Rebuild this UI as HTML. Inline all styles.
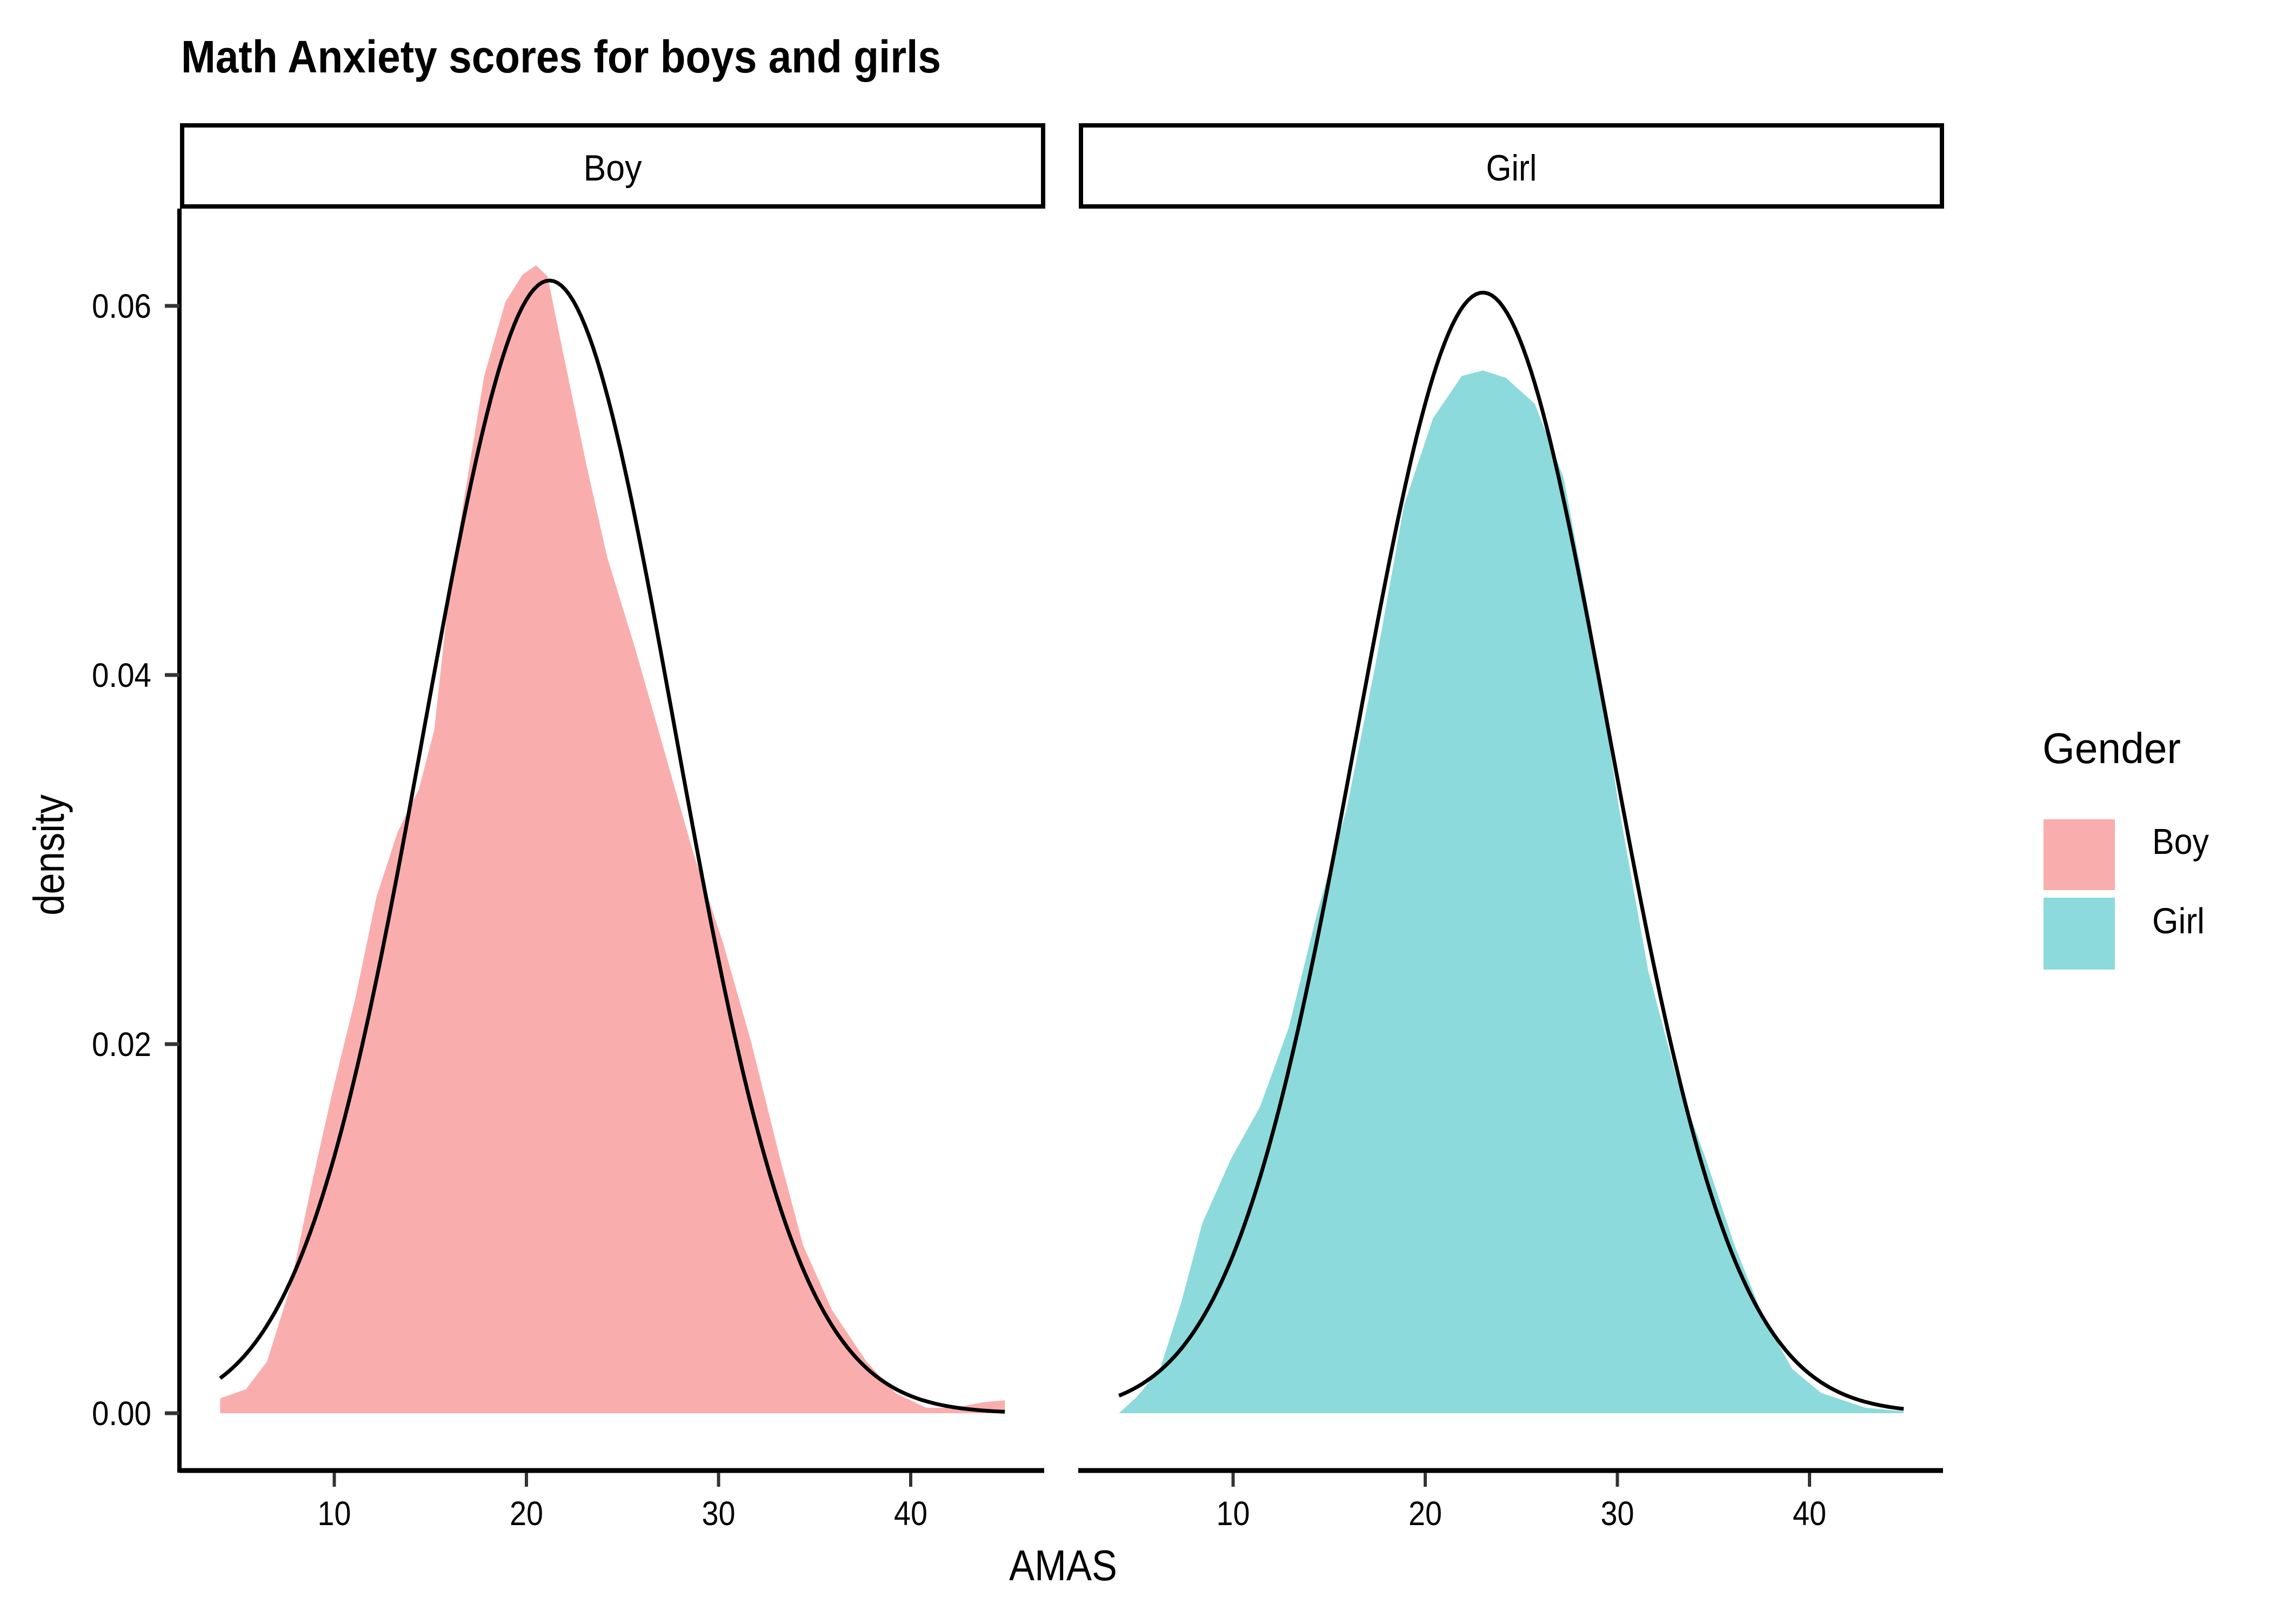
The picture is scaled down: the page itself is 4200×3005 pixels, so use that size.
<!DOCTYPE html>
<html><head><meta charset="utf-8"><style>
html,body{margin:0;padding:0;background:#fff}
svg text{font-family:"Liberation Sans Narrow","Liberation Sans",sans-serif;fill:#000}
</style></head><body>
<svg id="chart" width="4200" height="3000" viewBox="0 0 4200 3000" xmlns="http://www.w3.org/2000/svg">
<rect width="4200" height="3000" fill="#fff"/>
<text x="335" y="134" font-size="84" font-weight="bold" textLength="1406" lengthAdjust="spacingAndGlyphs">Math Anxiety scores for boys and girls</text>
<g id="panels"></g>
<text x="1967" y="2924" font-size="80" text-anchor="middle" textLength="200" lengthAdjust="spacingAndGlyphs">AMAS</text>
<text x="0" y="0" font-size="80" text-anchor="middle" textLength="224" lengthAdjust="spacingAndGlyphs" transform="translate(118,1582) rotate(-90)">density</text>
<g>
<text x="3779" y="1412" font-size="80" textLength="256" lengthAdjust="spacingAndGlyphs">Gender</text>
<rect x="3781" y="1516" width="132" height="131" fill="#F9AEAD"/>
<rect x="3781" y="1661" width="132" height="133" fill="#8CDADC"/>
<text x="3982" y="1580" font-size="67" textLength="105" lengthAdjust="spacingAndGlyphs">Boy</text>
<text x="3982" y="1727" font-size="67" textLength="97" lengthAdjust="spacingAndGlyphs">Girl</text>
</g>
</svg>
<script>
const panelNames = ["Boy", "Girl"];
const boyX = [4.06,5.4,6.5,7.7,8.8,9.9,11.1,12.2,13.3,14.4,15.2,15.9,16.7,17.8,18.9,19.8,20.5,21.1,22.0,23.1,24.2,25.7,27.2,28.7,30.2,31.7,33.2,34.4,35.9,37.7,39.2,40.8,42.3,43.8,44.9];
const boyDensity = [0.0008,0.0013,0.0028,0.0068,0.0123,0.0174,0.0225,0.028,0.0315,0.0338,0.037,0.0437,0.0492,0.0562,0.0602,0.0617,0.0622,0.0616,0.057,0.0515,0.0464,0.0413,0.0358,0.0303,0.0256,0.0201,0.0138,0.0091,0.0056,0.0028,0.0011,0.0003,0.0003,0.0006,0.0007];
const girlX = [4.06,5.0,6.2,7.3,8.4,9.9,11.4,12.9,14.4,15.9,17.4,18.9,20.4,21.9,23.0,24.2,25.7,27.2,28.6,30.1,31.6,33.1,34.6,36.1,37.6,39.1,40.6,42.9,44.9];
const girlDensity = [0,0.0009,0.0024,0.006,0.0103,0.0138,0.0166,0.0209,0.0272,0.0327,0.0405,0.0492,0.0539,0.0562,0.0565,0.0561,0.0547,0.0507,0.0429,0.0327,0.024,0.0181,0.0138,0.0091,0.0052,0.0024,0.0011,0.0003,0.0001];
const normalMean = [21.2, 23.0];
const normalSd = [6.5, 6.57];
const normalRange = [4.06, 44.9];
const xTicks = [10, 20, 30, 40];
const yTicks = [0, 0.02, 0.04, 0.06];
const yTickLabels = ["0.00", "0.02", "0.04", "0.06"];

const NS = "http://www.w3.org/2000/svg";
const panelsG = document.getElementById("panels");
const fills = ["#F9AEAD", "#8CDADC"];
const xsData = [boyX, girlX], ysData = [boyDensity, girlDensity];
const panelLeft = [337, 2000], panelW = 1597;
function yScale(v){ return 2615 - v / 0.02 * 683; }
function mk(tag, attrs, parent){ const e = document.createElementNS(NS, tag); for (const k in attrs) e.setAttribute(k, attrs[k]); parent.appendChild(e); return e; }

panelNames.forEach((name, p) => {
  const x0 = 263 + (panelLeft[p] - 337);
  const xScale = v => x0 + v * 35.55;
  const g = mk("g", {}, panelsG);
  
  
  const strip = mk("rect", {x: panelLeft[p], y: 232, width: panelW - 4, height: 150, fill: "#fff", stroke: "#000", "stroke-width": 8}, g);
  
  
  const st = mk("text", {x: panelLeft[p] + (panelW - 4) / 2, y: 334, "font-size": 68, "text-anchor": "middle", textLength: name.length === 3 ? 108 : 94, lengthAdjust: "spacingAndGlyphs"}, g);
  st.textContent = name;
  
  
  const xs = xsData[p], ys = ysData[p];
  let d = "M" + xScale(xs[0]) + "," + yScale(0);
  xs.forEach((x, i) => { d += " L" + xScale(x) + "," + yScale(ys[i]); });
  d += " L" + xScale(xs[xs.length - 1]) + "," + yScale(0) + " Z";
  const area = mk("path", {d: d, fill: fills[p], stroke: "none"}, g);
  
  
  let nd = "";
  const m = normalMean[p], s = normalSd[p];
  for (let i = 0; i <= 200; i++) {
    const x = normalRange[0] + (normalRange[1] - normalRange[0]) * i / 200;
    const y = Math.exp(-0.5 * Math.pow((x - m) / s, 2)) / (s * Math.sqrt(2 * Math.PI));
    nd += (i ? " L" : "M") + xScale(x).toFixed(1) + "," + yScale(y).toFixed(1);
  }
  const line = mk("path", {d: nd, fill: "none", stroke: "#000", "stroke-width": 7}, g);
  
  
  const xa = mk("line", {x1: panelLeft[p] - 5, x2: panelLeft[p] + panelW - 2, y1: 2721, y2: 2721, stroke: "#000", "stroke-width": 9}, g);
  
  
  xTicks.forEach(t => {
    const tk = mk("line", {x1: xScale(t), x2: xScale(t), y1: 2725, y2: 2751, stroke: "#333", "stroke-width": 6}, g);
    
    
    const tl = mk("text", {x: xScale(t), y: 2822, "font-size": 63, "text-anchor": "middle", textLength: 62, lengthAdjust: "spacingAndGlyphs"}, g);
    tl.textContent = t;
    
    
  });
});
const ya = mk("line", {x1: 332, x2: 332, y1: 386, y2: 2725, stroke: "#000", "stroke-width": 8}, panelsG);


yTicks.forEach((t, i) => {
  const tk = mk("line", {x1: 305, x2: 332, y1: yScale(t), y2: yScale(t), stroke: "#333", "stroke-width": 7}, panelsG);
  
  
  const tl = mk("text", {x: 280, y: yScale(t) + 22, "font-size": 63, "text-anchor": "end", textLength: 110, lengthAdjust: "spacingAndGlyphs"}, panelsG);
  tl.textContent = yTickLabels[i];
  
  
});
</script>
</body></html>
